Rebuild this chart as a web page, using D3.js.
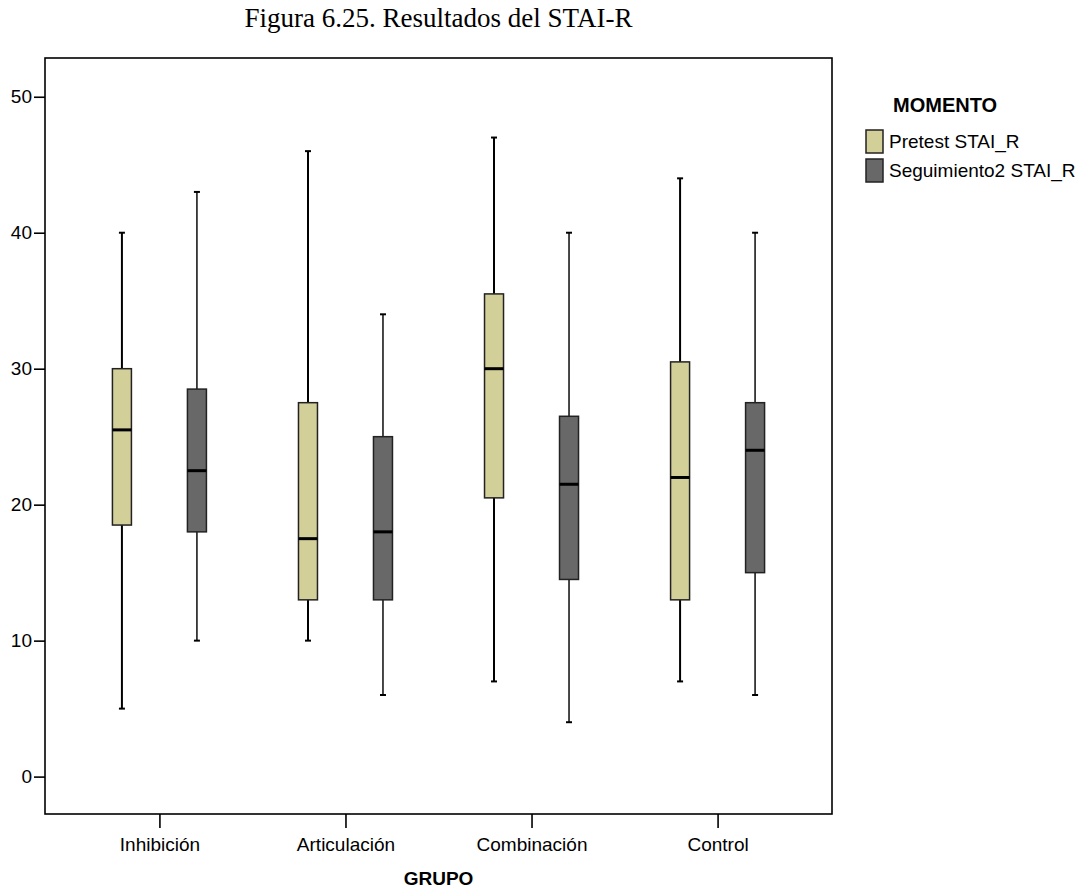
<!DOCTYPE html>
<html>
<head>
<meta charset="utf-8">
<script src="https://cdn.jsdelivr.net/npm/d3@7"></script>
<style>
  body { margin: 0; background: #fff; }
  svg { display: block; }
</style>
</head>
<body>
<svg id="chart" width="1086" height="892"></svg>
<script>
// Groups and measurement moments
const groups = ["Inhibición", "Articulación", "Combinación", "Control"];
const moments = ["Pretest STAI_R", "Seguimiento2 STAI_R"];
const yTicks = [0, 10, 20, 30, 40, 50];

// Five-number summaries per group: [min, q1, median, q3, max]
const pretest = [
  [5, 18.5, 25.5, 30, 40],
  [10, 13, 17.5, 27.5, 46],
  [7, 20.5, 30, 35.5, 47],
  [7, 13, 22, 30.5, 44]
];
const seguimiento = [
  [10, 18, 22.5, 28.5, 43],
  [6, 13, 18, 25, 34],
  [4, 14.5, 21.5, 26.5, 40],
  [6, 15, 24, 27.5, 40]
];

const fills = ["#d3cf98", "#686868"];
const whiskerStroke = ["#000", "#1a1a1a"];
const sans = "'Liberation Sans', Arial, sans-serif";

const svg = d3.select("#chart");
const frame = { left: 45, right: 832, top: 58, bottom: 814 };

const y = d3.scaleLinear().domain([-2.75, 52.85]).range([frame.bottom, frame.top]);
const x = d3.scalePoint().domain(groups).range([frame.left, frame.right]).padding(0.615);
const xSub = d3.scalePoint().domain(moments).range([-37.5, 37.5]);
const boxW = 19;

// Title
svg.append("text")
  .attr("x", (frame.left + frame.right) / 2)
  .attr("y", 27)
  .attr("text-anchor", "middle")
  .attr("font-family", "'Liberation Serif', 'Times New Roman', serif")
  .attr("font-size", 27)
  .text("Figura 6.25. Resultados del STAI-R");

// Plot frame
svg.append("rect")
  .attr("x", frame.left).attr("y", frame.top)
  .attr("width", frame.right - frame.left)
  .attr("height", frame.bottom - frame.top)
  .attr("fill", "none").attr("stroke", "#000").attr("stroke-width", 1.6);

// Y axis
const yAxis = d3.axisLeft(y).tickValues(yTicks).tickSize(11).tickPadding(2).tickFormat(d3.format("d"));
const gy = svg.append("g").attr("transform", `translate(${frame.left},0)`).call(yAxis);
gy.select(".domain").remove();
gy.selectAll(".tick line").attr("stroke", "#000").attr("stroke-width", 1.6);
gy.selectAll(".tick text")
  .attr("font-family", sans)
  .attr("font-size", 19).attr("fill", "#000");

// X axis
const xAxis = d3.axisBottom(x).tickSize(14).tickPadding(10);
const gx = svg.append("g").attr("transform", `translate(0,${frame.bottom})`).call(xAxis);
gx.select(".domain").remove();
gx.selectAll(".tick line").attr("stroke", "#000").attr("stroke-width", 1.6);
gx.selectAll(".tick text")
  .attr("font-family", sans)
  .attr("font-size", 19).attr("fill", "#000");

// Axis title
svg.append("text")
  .attr("x", (frame.left + frame.right) / 2)
  .attr("y", 885)
  .attr("text-anchor", "middle")
  .attr("font-family", sans)
  .attr("font-weight", "bold")
  .attr("font-size", 19)
  .text("GRUPO");

// Box plots
const series = [pretest, seguimiento];
series.forEach((data, si) => {
  const g = svg.append("g");
  data.forEach((s, gi) => {
    const cx = x(groups[gi]) + xSub(moments[si]);
    const [mn, q1, md, q3, mx] = s;
    // whiskers
    g.append("line").attr("x1", cx).attr("x2", cx).attr("y1", y(mx)).attr("y2", y(q3))
      .attr("stroke", whiskerStroke[si]).attr("stroke-width", si === 0 ? 2 : 1.6);
    g.append("line").attr("x1", cx).attr("x2", cx).attr("y1", y(q1)).attr("y2", y(mn))
      .attr("stroke", whiskerStroke[si]).attr("stroke-width", si === 0 ? 2 : 1.6);
    [mn, mx].forEach(v => {
      g.append("line").attr("x1", cx - 3).attr("x2", cx + 3).attr("y1", y(v)).attr("y2", y(v))
        .attr("stroke", "#000").attr("stroke-width", 2);
    });
    // box
    g.append("rect")
      .attr("x", cx - boxW / 2).attr("y", y(q3))
      .attr("width", boxW).attr("height", y(q1) - y(q3))
      .attr("fill", fills[si]).attr("stroke", "#222").attr("stroke-width", 1.5);
    // median
    g.append("line").attr("x1", cx - boxW / 2).attr("x2", cx + boxW / 2)
      .attr("y1", y(md)).attr("y2", y(md))
      .attr("stroke", "#000").attr("stroke-width", 3);
  });
});

// Legend
const lg = svg.append("g");
lg.append("text").attr("x", 893).attr("y", 112)
  .attr("font-family", sans)
  .attr("font-weight", "bold").attr("font-size", 20)
  .text("MOMENTO");
moments.forEach((m, i) => {
  const top = 130 + i * 29;
  lg.append("rect").attr("x", 866).attr("y", top).attr("width", 17).attr("height", 23)
    .attr("fill", fills[i]).attr("stroke", "#222").attr("stroke-width", 1.5);
  lg.append("text").attr("x", 889).attr("y", top + 18)
    .attr("font-family", sans)
    .attr("font-size", 19)
    .text(m);
});
</script>
</body>
</html>
